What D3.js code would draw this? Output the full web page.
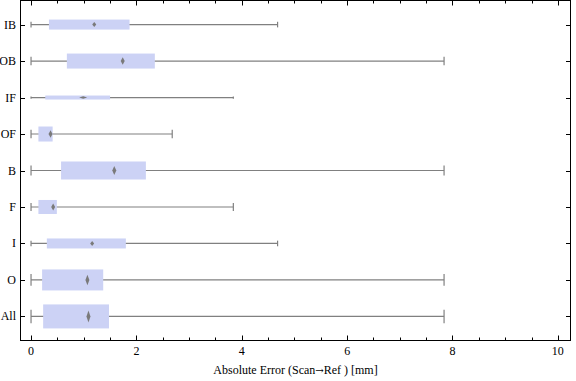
<!DOCTYPE html>
<html><head><meta charset="utf-8">
<script src="https://cdn.jsdelivr.net/npm/d3@7"></script>
<style>body{margin:0;background:#fff}svg{display:block}</style>
</head><body>
<svg id="c" width="576" height="381"></svg>
<script>
const categories = ["IB","OB","IF","OF","B","F","I","O","All"];
const whiskerLow = [0,0,0,0,0,0,0,0,0];
const q1 =         [0.34,0.68,0.27,0.14,0.57,0.14,0.30,0.21,0.23];
const medians =    [1.20,1.74,0.99,0.37,1.58,0.42,1.16,1.07,1.09];
const q3 =         [1.87,2.35,1.50,0.41,2.18,0.49,1.80,1.37,1.48];
const whiskerHigh =[4.68,7.84,3.84,2.68,7.84,3.84,4.68,7.84,7.84];
const boxWeight =  [10,15,4,15,18,14,10,21,24];
const xTickLabels = [0,2,4,6,8,10];
const xTitleParts = ["Absolute Error (Scan", "\u2192", "Ref ) [mm]"];

const data = categories.map((c,i)=>({c,i,lo:whiskerLow[i],q1:q1[i],med:medians[i],q3:q3[i],hi:whiskerHigh[i],w:boxWeight[i]}));

const svg = d3.select("#c");
const L=20.5, R=570.5, T=0.5, B=340.5;
const x = d3.scaleLinear().domain([-0.2,10.24]).range([L,R]);
const y = d3.scaleLinear().domain([-0.66,8.66]).range([T,B]);
const h = d3.scaleLinear().domain([0,24]).range([0,24]);
const font = "'Liberation Serif','Times New Roman',serif";
const gray = "#808080";

const g = svg.append("g");
const rows = g.selectAll("g.row").data(data).join("g").attr("class","row");
rows.append("line").attr("x1",d=>x(d.lo)).attr("x2",d=>x(d.hi))
  .attr("y1",d=>y(d.i)).attr("y2",d=>y(d.i)).attr("stroke",gray).attr("stroke-width",1.2);
rows.append("line").attr("x1",d=>x(d.lo)).attr("x2",d=>x(d.lo))
  .attr("y1",d=>y(d.i)-h(d.w)*0.28).attr("y2",d=>y(d.i)+h(d.w)*0.28).attr("stroke",gray).attr("stroke-width",1.2);
rows.append("line").attr("x1",d=>x(d.hi)).attr("x2",d=>x(d.hi))
  .attr("y1",d=>y(d.i)-h(d.w)*0.28).attr("y2",d=>y(d.i)+h(d.w)*0.28).attr("stroke",gray).attr("stroke-width",1.2);
rows.append("rect").attr("x",d=>x(d.q1)).attr("width",d=>x(d.q3)-x(d.q1))
  .attr("y",d=>y(d.i)-h(d.w)/2).attr("height",d=>h(d.w)).attr("fill","#ccd2f5");
rows.append("path").attr("d",d=>{
  const cx=x(d.med), cy=y(d.i), hh=Math.max(h(d.w)*0.25,1.2), ww=h(d.w)<6?4:2;
  return `M${cx-ww},${cy}L${cx},${cy-hh}L${cx+ww},${cy}L${cx},${cy+hh}Z`;
}).attr("fill","#7a7a7a");

svg.append("rect").attr("x",L).attr("y",T).attr("width",R-L).attr("height",B-T)
  .attr("fill","none").attr("stroke","#000").attr("stroke-width",1);

d3.range(0,10.01,0.5).forEach(v=>{
  const major = Math.abs(v%2)<1e-9;
  const len = major?5:3;
  const xx = Math.round(x(v))+0.5;
  svg.append("line").attr("x1",xx).attr("x2",xx).attr("y1",B).attr("y2",B-len).attr("stroke","#000");
  svg.append("line").attr("x1",xx).attr("x2",xx).attr("y1",T).attr("y2",T+len).attr("stroke","#000");
});
xTickLabels.forEach(v=>{
  svg.append("text").attr("x",x(v)).attr("y",355).attr("text-anchor","middle")
    .attr("font-family",font).attr("font-size",12).text(v);
});
data.forEach(d=>{
  const yy = Math.round(y(d.i))+0.5;
  svg.append("line").attr("x1",L).attr("x2",L+4.5).attr("y1",yy).attr("y2",yy).attr("stroke","#000");
  svg.append("line").attr("x1",R).attr("x2",R-4.5).attr("y1",yy).attr("y2",yy).attr("stroke","#000");
  svg.append("text").attr("x",16).attr("y",y(d.i)+4).attr("text-anchor","end")
    .attr("font-family",font).attr("font-size",12).text(d.c);
});
const t = svg.append("text").attr("x",(L+R)/2).attr("y",374).attr("text-anchor","middle")
  .attr("font-family",font).attr("font-size",12);
t.append("tspan").text(xTitleParts[0]);
t.append("tspan").attr("font-family","'DejaVu Serif',serif").attr("font-size",10).text(xTitleParts[1]);
t.append("tspan").text(xTitleParts[2]);
</script>
</body></html>
